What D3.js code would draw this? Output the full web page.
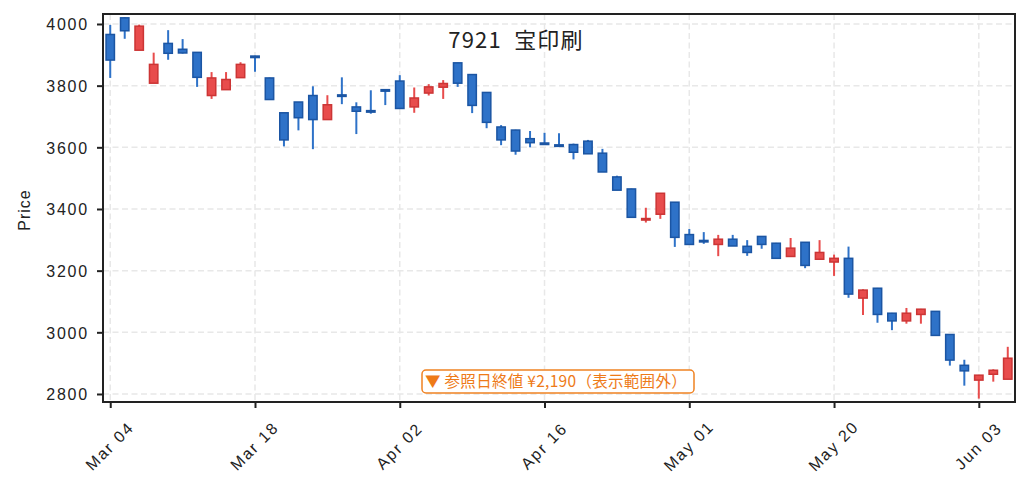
<!DOCTYPE html>
<html>
<head>
<meta charset="utf-8">
<script src="https://cdn.jsdelivr.net/npm/d3@7"></script>
<style>
  body { margin: 0; background: #fff; }
  svg { display: block; }
  .tick-lbl { font-family: "Liberation Sans", Arial, sans-serif; font-size: 16px; letter-spacing: 1.8px; fill: #222; }
  .jp { font-family: "Noto Sans CJK JP", sans-serif; }
</style>
</head>
<body>
<svg id="chart" width="1029" height="491"></svg>
<script>
// 7921 宝印刷 daily candles
const dates = [
  "2024-03-04","2024-03-05","2024-03-06","2024-03-07","2024-03-08","2024-03-11","2024-03-12","2024-03-13","2024-03-14","2024-03-15",
  "2024-03-18","2024-03-19","2024-03-21","2024-03-22","2024-03-25","2024-03-26","2024-03-27","2024-03-28","2024-03-29","2024-04-01",
  "2024-04-02","2024-04-03","2024-04-04","2024-04-05","2024-04-08","2024-04-09","2024-04-10","2024-04-11","2024-04-12","2024-04-15",
  "2024-04-16","2024-04-17","2024-04-18","2024-04-19","2024-04-22","2024-04-23","2024-04-24","2024-04-25","2024-04-26","2024-04-30",
  "2024-05-01","2024-05-07","2024-05-08","2024-05-09","2024-05-10","2024-05-13","2024-05-14","2024-05-15","2024-05-16","2024-05-17",
  "2024-05-20","2024-05-21","2024-05-22","2024-05-23","2024-05-24","2024-05-27","2024-05-28","2024-05-29","2024-05-30","2024-05-31",
  "2024-06-03","2024-06-04","2024-06-05"
];
const open = [
  3966,4020,3915,3808,3937,3918,3908,3768,3787,3826,
  3896,3825,3712,3747,3768,3690,3770,3731,3719,3787,
  3815,3731,3776,3795,3874,3836,3778,3666,3656,3628,
  3614,3608,3609,3620,3581,3504,3465,3365,3383,3422,
  3317,3298,3285,3302,3279,3311,3289,3246,3292,3237,
  3228,3240,3111,3143,3062,3037,3058,3068,2993,2893,
  2845,2864,2848
];
const high = [
  3997,4022,3998,3907,3980,3951,3908,3844,3844,3876,
  3897,3826,3712,3747,3798,3769,3827,3746,3785,3788,
  3834,3794,3805,3818,3874,3836,3778,3672,3657,3653,
  3647,3646,3612,3624,3595,3508,3466,3404,3451,3422,
  3335,3325,3316,3316,3299,3312,3290,3306,3292,3299,
  3252,3278,3140,3144,3063,3079,3076,3069,2994,2911,
  2862,2880,2953
];
const low = [
  3825,3952,3915,3808,3884,3904,3796,3757,3787,3826,
  3845,3754,3603,3655,3594,3690,3740,3643,3709,3737,
  3726,3712,3768,3757,3796,3711,3662,3607,3576,3600,
  3611,3606,3561,3579,3520,3461,3372,3356,3368,3277,
  3285,3287,3247,3280,3248,3271,3240,3246,3208,3237,
  3183,3112,3056,3031,3007,3028,3028,2990,2892,2827,
  2785,2840,2848
];
const close = [
  3883,3978,3993,3869,3905,3906,3827,3825,3820,3869,
  3893,3755,3624,3696,3690,3738,3766,3717,3716,3785,
  3726,3760,3796,3807,3808,3736,3681,3624,3588,3615,
  3612,3606,3584,3579,3520,3461,3373,3369,3451,3308,
  3285,3296,3302,3280,3259,3285,3240,3273,3217,3259,
  3240,3124,3137,3058,3037,3062,3075,2990,2910,2875,
  2861,2877,2916
];
const yTicks = [2800, 3000, 3200, 3400, 3600, 3800, 4000];
const xTickIdx = [0, 10, 20, 30, 40, 50, 60];
const title = "7921  宝印刷";
const note = "▼ 参照日終値 ¥2,190（表示範囲外）";

const parse = d3.timeParse("%Y-%m-%d");
const fmt = d3.timeFormat("%b %d");

const plotL = 103, plotR = 1015, plotT = 14, plotB = 402;
const svg = d3.select("#chart");

const x = d3.scaleLinear().domain([-0.5, dates.length - 0.5]).range([plotL, plotR]);
const y = d3.scaleLinear().domain([2774, 4032.4]).range([plotB, plotT]);

const UP = { fill: "#e84c4c", edge: "#cc3535" };
const DOWN = { fill: "#2e72c8", edge: "#1b55a3" };

// grid
const grid = svg.append("g").attr("stroke", "#e8e8e8").attr("stroke-width", 1.5).attr("stroke-dasharray", "6,3.5");
grid.selectAll(".gy").data(yTicks).enter().append("line")
  .attr("x1", plotL).attr("x2", plotR).attr("y1", d => y(d)).attr("y2", d => y(d));
grid.selectAll(".gx").data(xTickIdx).enter().append("line")
  .attr("y1", plotT).attr("y2", plotB).attr("x1", d => x(d)).attr("x2", d => x(d));

// candles
const candles = svg.append("g")
  .selectAll("g")
  .data(dates.map((d, i) => ({ i, o: open[i], h: high[i], l: low[i], c: close[i] })))
  .enter().append("g");

candles.append("line")
  .attr("x1", d => x(d.i)).attr("x2", d => x(d.i))
  .attr("y1", d => y(d.h)).attr("y2", d => y(d.l))
  .attr("stroke", d => d.c >= d.o ? UP.fill : DOWN.fill)
  .attr("stroke-width", 2);

candles.append("rect")
  .attr("x", d => x(d.i) - 4.2)
  .attr("width", 8.4)
  .attr("y", d => y(Math.max(d.o, d.c)))
  .attr("height", d => Math.max(1.5, Math.abs(y(d.o) - y(d.c))))
  .attr("fill", d => d.c >= d.o ? UP.fill : DOWN.fill)
  .attr("stroke", d => d.c >= d.o ? UP.edge : DOWN.edge)
  .attr("stroke-width", 1.5);

// axes
const yAxis = d3.axisLeft(y).tickValues(yTicks).tickSize(6).tickPadding(8).tickFormat(d3.format("d"));
const gy = svg.append("g").attr("transform", `translate(${plotL},0)`).call(yAxis);
gy.select(".domain").remove();
gy.selectAll(".tick line").attr("stroke", "#222").attr("stroke-width", 2);
gy.selectAll(".tick text").attr("class", "tick-lbl").attr("x", -14).attr("dy", "0.36em");

const xAxis = d3.axisBottom(x).tickValues(xTickIdx).tickSize(6).tickFormat(i => fmt(parse(dates[i])));
const gx = svg.append("g").attr("transform", `translate(0,${plotB})`).call(xAxis);
gx.select(".domain").remove();
gx.selectAll(".tick line").attr("stroke", "#222").attr("stroke-width", 2);
gx.selectAll(".tick text")
  .attr("class", "tick-lbl")
  .attr("y", 0).attr("dy", "0.35em")
  .attr("text-anchor", "middle")
  .attr("transform", "translate(-1,44) rotate(-45)");

// frame
svg.append("rect")
  .attr("x", plotL).attr("y", plotT).attr("width", plotR - plotL).attr("height", plotB - plotT)
  .attr("fill", "none").attr("stroke", "#222").attr("stroke-width", 2);

// y label
svg.append("text")
  .attr("class", "tick-lbl")
  .style("letter-spacing", "1px")
  .attr("transform", "translate(30,210) rotate(-90)")
  .attr("text-anchor", "middle")
  .text("Price");

// title
svg.append("text")
  .attr("class", "jp")
  .attr("x", 516).attr("y", 48)
  .attr("text-anchor", "middle")
  .attr("font-size", 22)
  .attr("fill", "#222")
  .style("white-space", "pre")
  .style("letter-spacing", "1.2px")
  .text(title);

// note box for out-of-range reference close
const noteG = svg.append("g");
noteG.append("rect")
  .attr("x", 422).attr("y", 370).attr("width", 272).attr("height", 23).attr("rx", 4)
  .attr("fill", "#fff").attr("stroke", "#f08222").attr("stroke-width", 1.5);
noteG.append("text")
  .attr("class", "jp")
  .attr("x", 556).attr("y", 382).attr("dy", "0.35em")
  .attr("text-anchor", "middle")
  .attr("font-size", 15.5)
  .attr("fill", "#ee7a18")
  .style("letter-spacing", "0.3px")
  .text(note);
</script>
</body>
</html>
